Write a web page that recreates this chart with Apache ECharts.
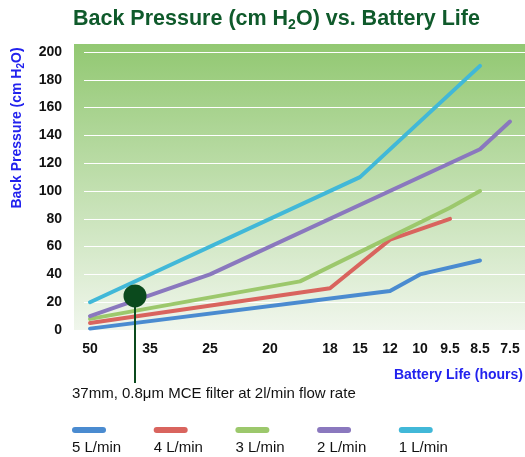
<!DOCTYPE html>
<html><head><meta charset="utf-8">
<script src="https://cdn.jsdelivr.net/npm/echarts@6/dist/echarts.min.js"></script>
<style>html,body{margin:0;padding:0;background:#fff}#c{width:525px;height:457px}</style>
</head><body><div id="c"></div>
<script>
// ---- data ----
const categories = ['50','','35','','25','','20','','18','15','12','10','9.5','8.5','7.5'];
const seriesNames = ['5 L/min','4 L/min','3 L/min','2 L/min','1 L/min'];
const flow5 = [1,null,null,null,null,null,null,null,null,null,28,40,null,50,null];
const flow4 = [5,null,null,null,null,null,null,null,30,null,65,null,80,null,null];
const flow3 = [8,null,null,null,null,null,null,35,null,null,null,null,88,100,null];
const flow2 = [10,null,null,null,40,null,null,null,null,null,null,null,null,130,150];
const flow1 = [20,null,null,null,null,null,null,null,null,110,null,null,null,190,null];
const yMin = 0, yMax = 200, yStep = 20;
const filterPoint = [1.5, 24.5];
const annotationText = '37mm, 0.8\u03bcm MCE filter at 2l/min flow rate';

const colors = ['#4a8bd0','#d9645e','#9cc86c','#8a78be','#41b8d8'];
const FONT = '"Liberation Sans", Arial, sans-serif';
const chart = echarts.init(document.getElementById('c'), null, {renderer:'canvas'});
const allSeries = [flow5, flow4, flow3, flow2, flow1];

const rich = { t: { fontSize: 15, color: '#111', lineHeight: 30, fontFamily: FONT } };
colors.forEach((c, i) => {
  rich['b' + i] = { width: 34, height: 6, lineHeight: 6, fontSize: 1, backgroundColor: c, borderRadius: 3 };
});

chart.setOption({
  animation: false,
  textStyle: { fontFamily: FONT },
  title: {
    left: 68, top: 1,
    text: '{a|Back Pressure (cm H}{s|2}{a|O) vs. Battery Life}',
    textStyle: {
      rich: {
        a: { fontSize: 21.5, fontWeight: 'bold', color: '#0f5a2b', lineHeight: 26, fontFamily: FONT },
        s: { fontSize: 14, fontWeight: 'bold', color: '#0f5a2b', lineHeight: 15, verticalAlign: 'bottom', fontFamily: FONT }
      }
    }
  },
  grid: { left: 75, right: 0, top: 52, bottom: 127, containLabel: false },
  xAxis: [{
    type: 'category', data: categories, boundaryGap: true,
    axisLine: { show: false }, axisTick: { show: false },
    axisLabel: { interval: 0, margin: 12, fontSize: 14, fontWeight: 'bold', color: '#111' },
    splitLine: { show: false }
  }, {
    type: 'value', min: -0.5, max: 14.5, show: false
  }],
  yAxis: {
    type: 'value', min: yMin, max: yMax, interval: yStep,
    axisLine: { show: false }, axisTick: { show: false },
    axisLabel: { margin: 13, fontSize: 14, fontWeight: 'bold', color: '#111' },
    splitLine: { show: true, showMinLine: false, lineStyle: { color: '#ffffff', width: 1 } }
  },
  legend: {
    left: 61, top: 422, icon: 'none', itemWidth: 1, itemHeight: 1, itemGap: 26.5,
    selectedMode: false, data: seriesNames,
    formatter: name => '{b' + seriesNames.indexOf(name) + '| }\n{t|' + name + '}',
    textStyle: { rich: rich }
  },
  series: allSeries.map((d, i) => ({
    name: seriesNames[i], type: 'line', data: d, connectNulls: true,
    showSymbol: false, symbol: 'none', color: colors[i], z: 2,
    lineStyle: { width: 4, color: colors[i], cap: 'round', join: 'round' }
  })).concat([{
    type: 'scatter', xAxisIndex: 1, data: [filterPoint], symbolSize: 23,
    itemStyle: { color: '#0b4a1d', opacity: 1 }, z: 6, silent: true
  }])
});

const p = chart.convertToPixel({ seriesIndex: 5 }, filterPoint);
const bg = () => new echarts.graphic.LinearGradient(0, 0, 0, 1, [
  { offset: 0, color: '#92c872' }, { offset: 1, color: '#f0f6ec' }
]);
chart.setOption({
  graphic: [
    { type: 'rect', z: -1, silent: true, shape: { x: 74, y: 44, width: 451, height: 286 }, style: { fill: bg() } },
    { type: 'rect', z: 1, silent: true, shape: { x: 74, y: 44, width: 10, height: 286 }, style: { fill: bg() } },
    { type: 'line', z: 5, silent: true, shape: { x1: p[0], y1: p[1], x2: p[0], y2: 383 }, style: { stroke: '#0b4a1d', lineWidth: 2 } },
    { type: 'text', z: 5, x: 72, y: 394, style: { text: annotationText, fontSize: 15, fill: '#111', fontFamily: FONT, align: 'left', verticalAlign: 'middle' } },
    { type: 'text', z: 5, x: 523, y: 375, style: { text: 'Battery Life (hours)', fontSize: 14, fontWeight: 'bold', fill: '#2222ee', fontFamily: FONT, align: 'right', verticalAlign: 'middle' } },
    { type: 'text', z: 5, x: 17, y: 128, rotation: Math.PI / 2,
      style: { text: '{a|Back Pressure (cm H}{s|2}{a|O)}', align: 'center', verticalAlign: 'middle',
        rich: {
          a: { fontSize: 14, fontWeight: 'bold', fill: '#2222ee', lineHeight: 18, fontFamily: FONT },
          s: { fontSize: 10, fontWeight: 'bold', fill: '#2222ee', lineHeight: 10, verticalAlign: 'bottom', fontFamily: FONT }
        } } }
  ]
});
</script></body></html>
